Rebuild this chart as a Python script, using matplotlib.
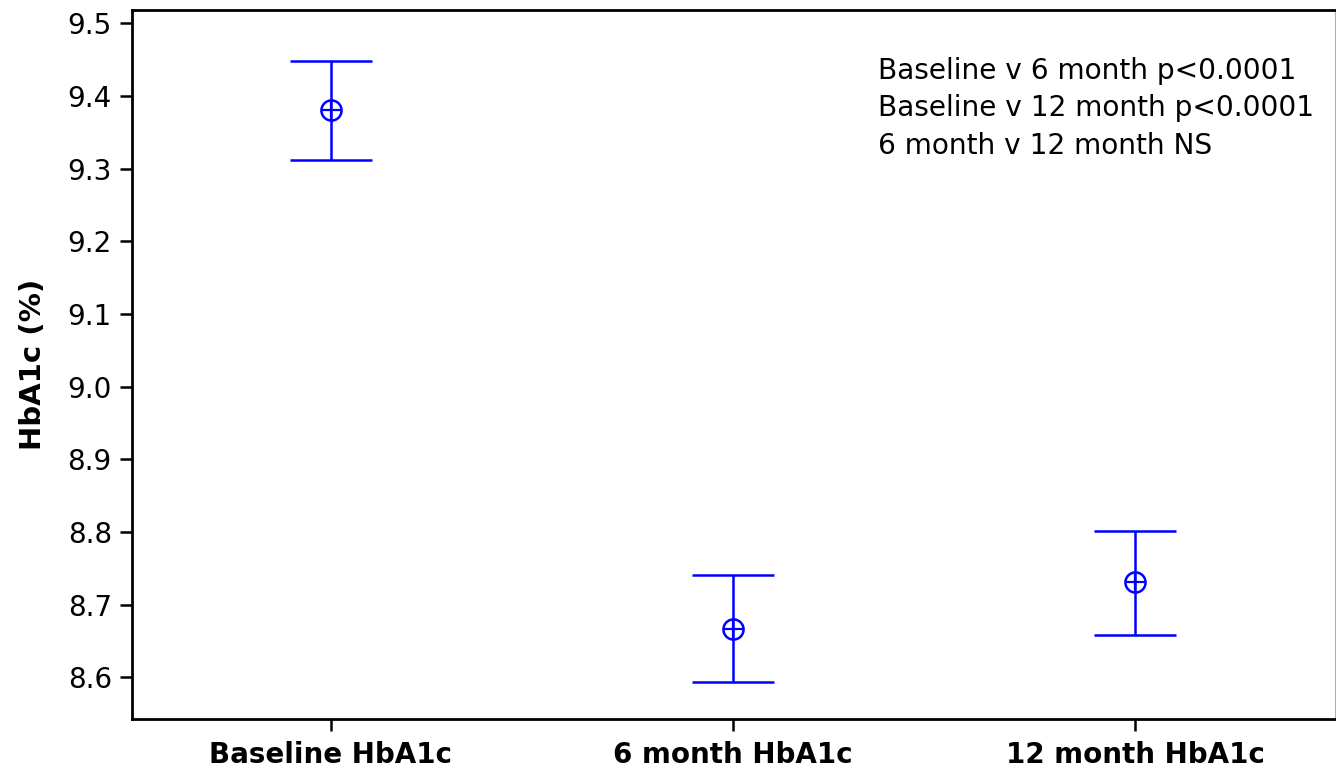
"""
Intervalos de HbA1c por visita
"""

import matplotlib
matplotlib.use("Agg")
import matplotlib.pyplot as plt

# Datos
categorias = ['Baseline HbA1c', '6 month HbA1c', '12 month HbA1c']
medias = [9.381, 8.666, 8.731]
ic_inferior = [9.312, 8.593, 8.658]
ic_superior = [9.448, 8.741, 8.802]
yticks = [8.6, 8.7, 8.8, 8.9, 9.0, 9.1, 9.2, 9.3, 9.4, 9.5]
notas = ['Baseline v 6 month p<0.0001',
         'Baseline v 12 month p<0.0001',
         '6 month v 12 month NS']

azul = '#0000FF'

fig = plt.figure(figsize=(13.36, 7.74), dpi=100)
ax = fig.add_axes([132 / 1336, 1 - 719 / 774, 1203 / 1336, 709 / 774])

x = list(range(1, len(categorias) + 1))
err_bajo = [m - lo for m, lo in zip(medias, ic_inferior)]
err_alto = [hi - m for m, hi in zip(medias, ic_superior)]

ax.errorbar(x, medias, yerr=[err_bajo, err_alto], fmt='none', ecolor=azul,
            elinewidth=1.8, capsize=29.5, capthick=1.8)
ax.plot(x, medias, linestyle='none', marker='o', markersize=14.5,
        markerfacecolor='none', markeredgecolor=azul, markeredgewidth=1.8)
ax.plot(x, medias, linestyle='none', marker='+', markersize=14.5,
        markeredgecolor=azul, markeredgewidth=1.6)

ax.set_xlim(0.505, 3.4975)
ax.set_ylim(8.5426, 9.5183)
ax.set_xticks(x)
ax.set_xticklabels(categorias, fontsize=20, fontweight='bold')
ax.set_yticks(yticks)
ax.set_yticklabels([f'{v:.1f}' for v in yticks], fontsize=20)
ax.tick_params(axis='both', direction='out', length=8.5, width=1.8, color='black')
ax.tick_params(axis='y', pad=6)
ax.tick_params(axis='x', pad=7)

ax.set_ylabel('HbA1c (%)', fontsize=21, fontweight='bold')
ax.yaxis.set_label_coords(-0.0707, 0.5)

for lado in ['left', 'bottom', 'top']:
    ax.spines[lado].set_linewidth(2.0)
    ax.spines[lado].set_color('black')
ax.spines['right'].set_linewidth(0.8)
ax.spines['right'].set_color('#b0b0b0')

# Notas de significancia
bases = [0.9027, 0.8498, 0.7970]
for texto, yb in zip(notas, bases):
    ax.text(0.620, yb, texto, transform=ax.transAxes, fontsize=20.2,
            ha='left', va='baseline')

plt.savefig('out.png', dpi=100)
plt.close()
